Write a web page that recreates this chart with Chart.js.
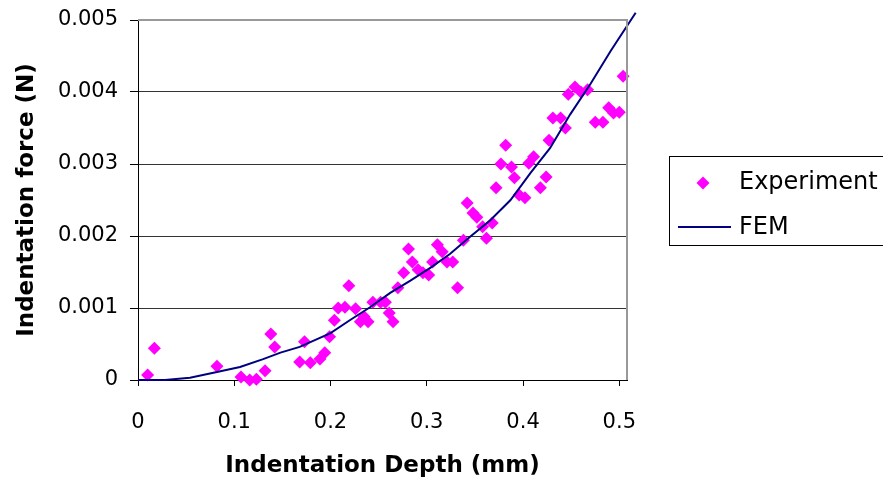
<!DOCTYPE html>
<html>
<head>
<meta charset="utf-8">
<script src="https://cdn.jsdelivr.net/npm/chart.js@4"></script>
<style>
  html, body { margin: 0; padding: 0; background: #fff; }
</style>
</head>
<body>
<canvas id="chart" width="883" height="485"></canvas>
<script>
// Experiment points (depth in mm, force in N)
const expDepth = [0.010, 0.017, 0.082, 0.107, 0.116, 0.123, 0.132, 0.138, 0.142, 0.168,
    0.173, 0.179, 0.189, 0.194, 0.199, 0.204, 0.208, 0.215, 0.219, 0.226,
    0.231, 0.235, 0.239, 0.244, 0.252, 0.257, 0.261, 0.265, 0.270, 0.276,
    0.281, 0.285, 0.291, 0.296, 0.302, 0.306, 0.311, 0.316, 0.321, 0.327,
    0.332, 0.338, 0.342, 0.348, 0.352, 0.358, 0.362, 0.368, 0.372, 0.377,
    0.382, 0.388, 0.391, 0.396, 0.402, 0.406, 0.411, 0.418, 0.424, 0.427,
    0.431, 0.439, 0.444, 0.447, 0.454, 0.460, 0.467, 0.475, 0.483, 0.489,
    0.494, 0.500, 0.504];
const expForce = [0.00007, 0.00044, 0.00019, 0.00004, 0.00000, 0.00001, 0.00013, 0.00064, 0.00046, 0.00025,
    0.00053, 0.00024, 0.00029, 0.00038, 0.00060, 0.00083, 0.00100, 0.00101, 0.00131, 0.00099,
    0.00081, 0.00088, 0.00081, 0.00108, 0.00108, 0.00108, 0.00093, 0.00081, 0.00128, 0.00149,
    0.00182, 0.00164, 0.00153, 0.00149, 0.00146, 0.00164, 0.00188, 0.00178, 0.00164, 0.00164,
    0.00128, 0.00194, 0.00246, 0.00232, 0.00226, 0.00213, 0.00197, 0.00218, 0.00267, 0.00300,
    0.00326, 0.00296, 0.00281, 0.00257, 0.00253, 0.00301, 0.00310, 0.00267, 0.00282, 0.00333,
    0.00364, 0.00364, 0.00350, 0.00397, 0.00407, 0.00400, 0.00403, 0.00358, 0.00358, 0.00378,
    0.00371, 0.00372, 0.00422];

// FEM curve
const femDepth = [0, 0.028, 0.054, 0.082, 0.106, 0.130, 0.148, 0.168, 0.200, 0.220,
    0.241, 0.262, 0.283, 0.304, 0.324, 0.345, 0.366, 0.387, 0.408, 0.428,
    0.449, 0.470, 0.491, 0.517];
const femForce = [0, 0, 0.00003, 0.00011, 0.00018, 0.00029, 0.00038, 0.00046, 0.00065, 0.00083,
    0.00101, 0.00121, 0.00138, 0.00156, 0.00175, 0.00199, 0.00222, 0.00250, 0.00288, 0.00322,
    0.00369, 0.00411, 0.00457, 0.00510];

const xTickValues = [0, 0.1, 0.2, 0.3, 0.4, 0.5];
const xTickLabels = ['0', '0.1', '0.2', '0.3', '0.4', '0.5'];
const yTickValues = [0, 0.001, 0.002, 0.003, 0.004, 0.005];
const yTickLabels = ['0', '0.001', '0.002', '0.003', '0.004', '0.005'];

Chart.defaults.font.family = "'DejaVu Sans', sans-serif";
Chart.defaults.color = '#000';

// plot frame (top / right) and the boxed legend on the right
const frameAndLegend = {
    id: 'frameAndLegend',
    afterDraw(chart) {
        const { ctx, chartArea } = chart;
        ctx.save();
        ctx.strokeStyle = '#999';
        ctx.lineWidth = 2;
        ctx.beginPath();
        ctx.moveTo(chartArea.left, chartArea.top);
        ctx.lineTo(chartArea.right, chartArea.top);
        ctx.lineTo(chartArea.right, chartArea.bottom);
        ctx.stroke();

        ctx.strokeStyle = '#000';
        ctx.lineWidth = 1;
        ctx.strokeRect(669.5, 156.5, 240, 89);

        ctx.fillStyle = '#FF00FF';
        ctx.beginPath();
        ctx.moveTo(696.5, 183);
        ctx.lineTo(703, 176.5);
        ctx.lineTo(709.5, 183);
        ctx.lineTo(703, 189.5);
        ctx.closePath();
        ctx.fill();

        ctx.strokeStyle = '#000080';
        ctx.lineWidth = 2;
        ctx.beginPath();
        ctx.moveTo(678, 227);
        ctx.lineTo(731, 227);
        ctx.stroke();

        ctx.fillStyle = '#000';
        ctx.font = "24px 'DejaVu Sans'";
        ctx.textAlign = 'left';
        ctx.textBaseline = 'middle';
        ctx.fillText(chart.data.datasets[1].label, 739, 183);
        ctx.fillText(chart.data.datasets[0].label, 739, 228);
        ctx.restore();
    },
};

const config = {
    type: 'scatter',
    data: {
        datasets: [
            {
                label: 'FEM',
                type: 'line',
                data: femDepth.map((x, i) => ({ x: x, y: femForce[i] })),
                borderColor: '#000080',
                borderWidth: 2,
                pointRadius: 0,
                tension: 0,
                fill: false,
                clip: false,
            },
            {
                label: 'Experiment',
                data: expDepth.map((x, i) => ({ x: x, y: expForce[i] })),
                backgroundColor: '#FF00FF',
                borderWidth: 0,
                pointStyle: 'rectRot',
                pointRadius: 6.5,
                clip: false,
            },
        ],
    },
    options: {
        responsive: false,
        animation: false,
        devicePixelRatio: 1,
        layout: { padding: { left: 0, top: 20, right: 256, bottom: 0 } },
        plugins: {
            legend: { display: false },
            tooltip: { enabled: false },
        },
        scales: {
            x: {
                type: 'linear',
                position: 'bottom',
                min: 0,
                max: 0.508,
                afterBuildTicks(scale) {
                    scale.ticks = xTickValues.map(v => ({ value: v }));
                },
                afterFit(scale) {
                    scale.height = 105;
                    scale.paddingLeft = 0;
                    scale.paddingRight = 0;
                },
                ticks: {
                    font: { size: 21 },
                    padding: 24,
                    maxRotation: 0,
                    callback: (value) => xTickLabels[xTickValues.indexOf(value)],
                },
                grid: {
                    drawOnChartArea: false,
                    tickLength: 6,
                    tickColor: '#000',
                },
                border: { color: '#000', width: 1 },
                title: {
                    display: true,
                    text: 'Indentation Depth (mm)',
                    font: { size: 23, weight: 'bold' },
                    padding: 5,
                },
            },
            y: {
                min: 0,
                max: 0.005,
                afterBuildTicks(scale) {
                    scale.ticks = yTickValues.map(v => ({ value: v }));
                },
                afterFit(scale) {
                    scale.width = 138;
                    scale.paddingTop = 0;
                    scale.paddingBottom = 0;
                },
                ticks: {
                    font: { size: 21 },
                    padding: 12,
                    callback: (value) => yTickLabels[yTickValues.indexOf(value)],
                },
                grid: {
                    color: '#333',
                    lineWidth: 1,
                    tickLength: 8,
                    tickColor: '#000',
                },
                border: { color: '#000', width: 1 },
                title: {
                    display: true,
                    text: 'Indentation force (N)',
                    font: { size: 23, weight: 'bold' },
                    padding: 13,
                },
            },
        },
    },
    plugins: [frameAndLegend],
};

const chart = new Chart(document.getElementById('chart'), config);
</script>
</body>
</html>
